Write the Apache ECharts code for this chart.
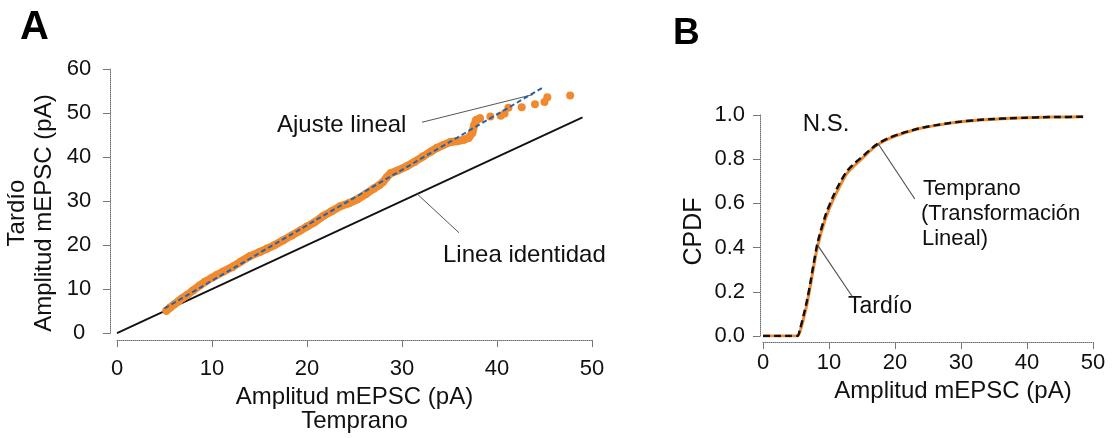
<!DOCTYPE html>
<html>
<head>
<meta charset="utf-8">
<script src="https://cdn.jsdelivr.net/npm/echarts@6/dist/echarts.min.js"></script>
<style>
html,body{margin:0;padding:0;background:#fff;}
#chart{width:1112px;height:438px;}
</style>
</head>
<body>
<div id="chart"></div>
<script>
// ---------- Panel A: Q-Q plot (Temprano vs Tardío) ----------
var tempranoQ = [5.2,5.6,6.0,6.5,6.9,7.4,8.0,8.7,9.3,10.0,10.5,11.2,12.2,13.0,14.0,15.0,15.8,16.6,17.5,18.4,19.3,20.0,20.8,21.7,22.6,23.5,24.4,25.3,26.2,27.0,27.6,28.0,28.4,28.8,29.5,30.5,31.3,32.2,33.0,33.7,34.3,35.1,35.8,36.5,37.0,37.4,37.6,37.8,38.2,39.3,40.4,40.8,41.2,42.6,44.0,45.0,45.3,47.7];
var tardioQ   = [5.1,5.8,6.5,7.3,8.0,8.7,9.7,10.8,11.7,12.6,13.2,14.0,15.1,16.2,17.5,18.4,19.2,20.0,21.1,22.2,23.3,24.2,25.2,26.6,27.7,28.8,29.5,30.4,31.6,32.8,33.6,34.3,35.4,36.3,36.9,37.9,38.9,40.1,41.2,42.1,42.7,43.4,43.6,43.9,44.3,45.5,47.2,48.4,48.8,49.2,49.4,49.9,51.2,51.3,52.0,52.5,53.6,54.0];
var fitX = [5, 45];
var fitY = [5.6, 56];
var identX = [0, 49];
var identY = [0, 49];
var ticksA_x = [0, 10, 20, 30, 40, 50];
var ticksA_y = [0, 10, 20, 30, 40, 50, 60];

// ---------- Panel B: cumulative distributions ----------
var cdfX        = [0, 2, 4, 5.2, 5.6, 6.2, 6.7, 7.2, 7.6, 8.3, 9.4, 10.6, 11.6, 12.7, 14.0, 15.2, 16.3, 17.4, 19.0, 20.8, 22.5, 24.2, 26.0, 27.9, 30.0, 32.5, 35.0, 37.5, 40.0, 42.5, 45.0, 48.5];
var tardioCdf   = [0, 0, 0, 0, 0.02, 0.085, 0.15, 0.23, 0.30, 0.41, 0.525, 0.615, 0.675, 0.735, 0.775, 0.808, 0.840, 0.866, 0.892, 0.913, 0.929, 0.942, 0.952, 0.961, 0.969, 0.976, 0.981, 0.985, 0.988, 0.990, 0.991, 0.992];
var tempranoCdf = [0, 0, 0, 0, 0.03, 0.10, 0.165, 0.245, 0.315, 0.425, 0.54, 0.63, 0.69, 0.745, 0.785, 0.815, 0.845, 0.870, 0.895, 0.915, 0.930, 0.943, 0.953, 0.962, 0.970, 0.977, 0.982, 0.985, 0.988, 0.990, 0.991, 0.992];

var FONT = "'Liberation Sans', Arial, Helvetica, sans-serif";
var TXT = '#111';
var ORANGE = '#f18a2e';

function zip(a, b) { return a.map(function (v, i) { return [v, b[i]]; }); }
var qqPts = zip(tempranoQ, tardioQ);
var bandPts = qqPts.filter(function (p) { return p[0] <= 38.3; });

var axisLineStyle = { color: '#6f6f6f', width: 1, type: 'dotted' };
var tickStyle = { show: true, length: 7, lineStyle: { color: '#777', width: 1 } };

var chart = echarts.init(document.getElementById('chart'), null, { renderer: 'canvas' });
var option = {
  animation: false,
  backgroundColor: '#ffffff',
  textStyle: { fontFamily: FONT },
  grid: [
    { left: 117, top: 69, width: 475, height: 268 },
    { left: 763, top: 115, width: 330, height: 221 }
  ],
  xAxis: [
    {
      gridIndex: 0, type: 'value', min: ticksA_x[0], max: ticksA_x[ticksA_x.length - 1], interval: 10,
      offset: 7,
      axisLine: { show: true, onZero: false, lineStyle: axisLineStyle },
      axisTick: tickStyle, splitLine: { show: false },
      axisLabel: { margin: 18, fontSize: 22, color: TXT, fontFamily: FONT },
      name: 'Amplitud mEPSC (pA)\nTemprano', nameLocation: 'middle', nameGap: 44,
      nameTextStyle: { fontSize: 24, lineHeight: 24, color: TXT, fontFamily: FONT }
    },
    {
      gridIndex: 1, type: 'value', min: 0, max: 50, interval: 10,
      offset: 6,
      axisLine: { show: true, onZero: false, lineStyle: axisLineStyle },
      axisTick: tickStyle, splitLine: { show: false },
      axisLabel: { margin: 10, fontSize: 22, color: TXT, fontFamily: FONT },
      name: 'Amplitud mEPSC (pA)', nameLocation: 'middle', nameGap: 34,
      nameTextStyle: { fontSize: 24, lineHeight: 24, color: TXT, fontFamily: FONT, padding: [0, 0, 0, 50] }
    }
  ],
  yAxis: [
    {
      gridIndex: 0, type: 'value', min: ticksA_y[0], max: ticksA_y[ticksA_y.length - 1], interval: 10,
      offset: 7,
      axisLine: { show: true, onZero: false, lineStyle: axisLineStyle },
      axisTick: tickStyle, splitLine: { show: false },
      axisLabel: { margin: 31, align: 'center', fontSize: 22, color: TXT, fontFamily: FONT },
      name: 'Tardío\nAmplitud mEPSC (pA)', nameLocation: 'middle', nameGap: 52, nameRotate: 90,
      nameTextStyle: { fontSize: 24, lineHeight: 27, color: TXT, fontFamily: FONT, padding: [0, 24, 0, 0] }
    },
    {
      gridIndex: 1, type: 'value', min: 0, max: 1, interval: 0.2,
      offset: 3,
      axisLine: { show: true, onZero: false, lineStyle: axisLineStyle },
      axisTick: tickStyle, splitLine: { show: false },
      axisLabel: { margin: 15, fontSize: 22, color: TXT, fontFamily: FONT, formatter: function (v) { return v.toFixed(1); } },
      name: 'CPDF', nameLocation: 'middle', nameGap: 53, nameRotate: 90,
      nameTextStyle: { fontSize: 25, lineHeight: 25, color: TXT, fontFamily: FONT, padding: [0, 12, 0, 0] }
    }
  ],
  series: [
    {
      name: 'Linea identidad', type: 'line', xAxisIndex: 0, yAxisIndex: 0,
      data: zip(identX, identY), showSymbol: false, symbol: 'none',
      lineStyle: { color: '#111', width: 1.8 }, z: 2,
      markLine: {
        silent: true, symbol: 'none', label: { show: false },
        lineStyle: { color: '#555', width: 1, type: 'solid' },
        data: [
          [{ coord: [31.5, 31.8] }, { coord: [36.0, 22.8] }],
          [{ coord: [32.1, 47.9] }, { coord: [43.8, 54.2] }]
        ]
      }
    },
    {
      name: 'Tardío band', type: 'line', xAxisIndex: 0, yAxisIndex: 0,
      data: bandPts, showSymbol: false, symbol: 'none',
      lineStyle: { color: ORANGE, width: 8, cap: 'round', join: 'round' }, z: 3
    },
    {
      name: 'Q-Q', type: 'scatter', xAxisIndex: 0, yAxisIndex: 0,
      data: qqPts, symbol: 'circle', symbolSize: 8,
      itemStyle: { color: ORANGE, opacity: 1 }, z: 4
    },
    {
      name: 'Ajuste lineal', type: 'line', xAxisIndex: 0, yAxisIndex: 0,
      data: zip(fitX, fitY), showSymbol: false, symbol: 'none',
      lineStyle: { color: '#2563a8', width: 2, type: [5, 3] }, z: 5
    },
    {
      name: 'Tardío', type: 'line', xAxisIndex: 1, yAxisIndex: 1,
      data: zip(cdfX, tardioCdf), showSymbol: false, symbol: 'none', smooth: 0.3,
      lineStyle: { color: ORANGE, width: 3 }, z: 3,
      markLine: {
        silent: true, symbol: 'none', label: { show: false },
        lineStyle: { color: '#555', width: 1.2, type: 'solid' },
        data: [
          [{ coord: [8.3, 0.41] }, { coord: [13.5, 0.18] }],
          [{ coord: [17.4, 0.872] }, { coord: [23.0, 0.62] }]
        ]
      }
    },
    {
      name: 'Temprano', type: 'line', xAxisIndex: 1, yAxisIndex: 1,
      data: zip(cdfX, tempranoCdf), showSymbol: false, symbol: 'none', smooth: 0.3,
      lineStyle: { color: '#111', width: 2.5, type: [7, 4] }, z: 4
    }
  ],
  graphic: [
    { type: 'text', x: 20, y: 28, style: { text: 'A', font: 'bold 40px ' + FONT, fill: '#000', textAlign: 'left', textVerticalAlign: 'middle' } },
    { type: 'text', x: 673, y: 34, style: { text: 'B', font: 'bold 37px ' + FONT, fill: '#000', textAlign: 'left', textVerticalAlign: 'middle' } },
    { type: 'text', x: 277, y: 125, style: { text: 'Ajuste lineal', font: '24px ' + FONT, fill: TXT, textAlign: 'left', textVerticalAlign: 'middle' } },
    { type: 'text', x: 443, y: 255, style: { text: 'Linea identidad', font: '24px ' + FONT, fill: TXT, textAlign: 'left', textVerticalAlign: 'middle' } },
    { type: 'text', x: 826, y: 124, style: { text: 'N.S.', font: '24px ' + FONT, fill: TXT, textAlign: 'center', textVerticalAlign: 'middle' } },
    { type: 'text', x: 923, y: 189, style: { text: 'Temprano', font: '22px ' + FONT, fill: TXT, textAlign: 'left', textVerticalAlign: 'middle' } },
    { type: 'text', x: 921, y: 214, style: { text: '(Transformación', font: '22px ' + FONT, fill: TXT, textAlign: 'left', textVerticalAlign: 'middle' } },
    { type: 'text', x: 922, y: 239, style: { text: 'Lineal)', font: '22px ' + FONT, fill: TXT, textAlign: 'left', textVerticalAlign: 'middle' } },
    { type: 'text', x: 848, y: 307, style: { text: 'Tardío', font: '23px ' + FONT, fill: TXT, textAlign: 'left', textVerticalAlign: 'middle' } }
  ]
};
chart.setOption(option);
</script>
</body>
</html>
